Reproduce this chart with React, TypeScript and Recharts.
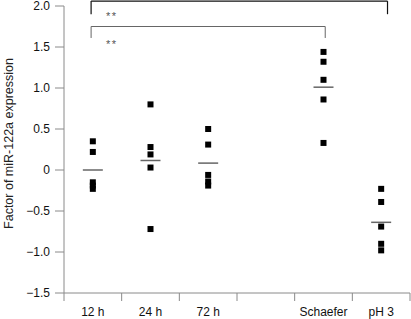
import { ReferenceDot, ReferenceLine, Scatter, ScatterChart, XAxis, YAxis } from "recharts";

// category names, in slot order (slot 3 is an empty gap)
const categories = ['12 h', '24 h', '72 h', '', 'Schaefer', 'pH 3'];

// individual measurements per group
const h12 = [0.35, 0.22, -0.15, -0.19, -0.23];
const h24 = [0.8, 0.28, 0.19, 0.03, -0.72];
const h72 = [0.5, 0.31, -0.06, -0.14, -0.19];
const schaefer = [1.44, 1.32, 1.1, 0.86, 0.33];
const ph3 = [-0.23, -0.39, -0.69, -0.9, -0.98];

const groups = [
  { slot: 0, values: h12 },
  { slot: 1, values: h24 },
  { slot: 2, values: h72 },
  { slot: 4, values: schaefer },
  { slot: 5, values: ph3 },
];

const yTicks = [-1.5, -1, -0.5, 0, 0.5, 1, 1.5, 2];
const slotEdges = [0, 1, 2, 3, 4, 5, 6];

const points = groups.flatMap(g => g.values.map(v => ({ x: g.slot + 0.5, y: v })));
const means = groups.map(g => ({
  x: g.slot + 0.5,
  y: g.values.reduce((a, b) => a + b, 0) / g.values.length,
}));

const fmtY = (v: number) => (v === 0 ? '0' : v.toFixed(1).replace('-', '\u2212'));

const Square = (props: any) => {
  const { cx, cy } = props;
  return <rect x={cx - 3} y={cy - 3} width={6} height={6} fill="#000" />;
};

const MeanBar = (props: any) => {
  const { cx, cy } = props;
  return <line x1={cx - 10} x2={cx + 10} y1={cy} y2={cy} stroke="#666" strokeWidth={1.5} />;
};

// ticks sit on slot edges, label goes in the middle of the slot to the right
const EdgeTick = (props: any) => {
  const { x, y, width, payload } = props;
  const name = categories[payload.value];
  if (!name) return <g />;
  const half = width / (slotEdges.length - 1) / 2;
  return (
    <text x={x + half} y={y} dy="0.71em" textAnchor="middle" fontSize={12} fill="#111">
      {name}
    </text>
  );
};

const YLabel = (props: any) => {
  const { x, y, height } = props.viewBox;
  const cx = x + 9;
  const cy = y + height / 2 - 6;
  return (
    <text x={cx} y={cy} transform={`rotate(-90 ${cx} ${cy})`} textAnchor="middle"
      dominantBaseline="central" fontSize={12.5} fill="#222">
      Factor of miR-122a expression
    </text>
  );
};

const Stars = (props: any) => {
  const { x, y } = props.viewBox;
  return (
    <text x={x} y={y} dy="0.55em" textAnchor="middle" fontSize={11} fill="#555" letterSpacing={1.5}>
      **
    </text>
  );
};

const axisGray = '#8a8a8a';

function App() {
  return (
    <div style={{ position: 'absolute', left: 0, top: 0 }}>
      <ScatterChart
        width={411}
        height={319}
        margin={{ top: 6, right: 1, bottom: 0, left: 0 }}
        style={{ fontFamily: '"Liberation Sans", Arial, sans-serif' }}
      >
        <XAxis
          type="number"
          dataKey="x"
          domain={[0, 6]}
          ticks={slotEdges}
          interval={0}
          height={26}
          tickSize={8}
          tickMargin={6}
          stroke={axisGray}
          tick={EdgeTick}
        />
        <YAxis
          type="number"
          dataKey="y"
          domain={[-1.5, 2]}
          ticks={yTicks}
          interval={0}
          width={64}
          tickSize={9}
          tickMargin={5}
          stroke={axisGray}
          tick={{ fill: '#111', fontSize: 12 }}
          tickFormatter={fmtY}
          label={YLabel}
        />
        <ReferenceLine segment={[{ x: 0.47, y: 1.9 }, { x: 0.47, y: 2.06 }]} stroke="#111" strokeWidth={1.2} ifOverflow="visible" />
        <ReferenceLine segment={[{ x: 0.47, y: 2.06 }, { x: 5.61, y: 2.06 }]} stroke="#111" strokeWidth={1.2} ifOverflow="visible" />
        <ReferenceLine segment={[{ x: 5.61, y: 2.06 }, { x: 5.61, y: 1.9 }]} stroke="#111" strokeWidth={1.2} ifOverflow="visible" />
        <ReferenceLine segment={[{ x: 0.47, y: 1.61 }, { x: 0.47, y: 1.75 }]} stroke="#666" ifOverflow="visible" />
        <ReferenceLine segment={[{ x: 0.47, y: 1.75 }, { x: 4.53, y: 1.75 }]} stroke="#666" ifOverflow="visible" />
        <ReferenceLine segment={[{ x: 4.53, y: 1.75 }, { x: 4.53, y: 1.61 }]} stroke="#666" ifOverflow="visible" />
        <ReferenceDot x={0.83} y={1.9} r={0} stroke="none" fill="none" ifOverflow="visible" label={Stars} />
        <ReferenceDot x={0.83} y={1.56} r={0} stroke="none" fill="none" ifOverflow="visible" label={Stars} />
        <Scatter data={means} shape={MeanBar} isAnimationActive={false} />
        <Scatter data={points} shape={Square} isAnimationActive={false} />
      </ScatterChart>
    </div>
  );
}

export default App
